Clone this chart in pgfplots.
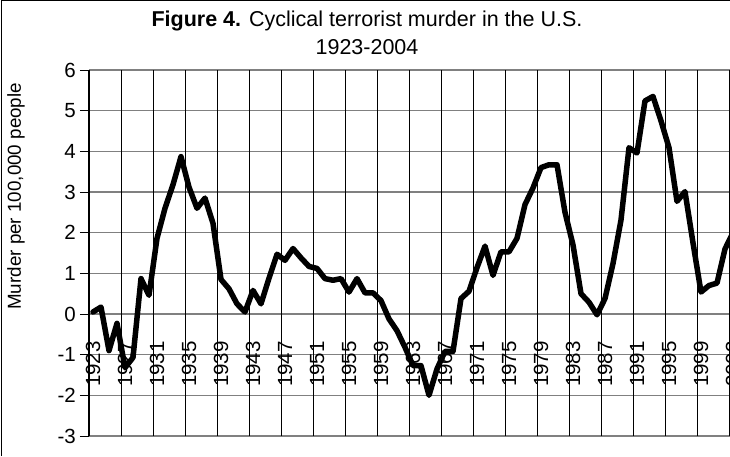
\documentclass[border=0pt]{standalone}
\usepackage{pgfplots}
\pgfplotsset{compat=1.18}
\usepackage{pgfplotstable}
\usepackage{fontspec}
\setmainfont{Liberation Sans}

\pgfplotstableread{
year val
1923 0.05
1924 0.17
1925 -0.90
1926 -0.23
1927 -1.32
1928 -1.07
1929 0.87
1930 0.46
1931 1.86
1932 2.60
1933 3.18
1934 3.87
1935 3.12
1936 2.60
1937 2.85
1938 2.23
1939 0.85
1940 0.62
1941 0.25
1942 0.05
1943 0.58
1944 0.25
1945 0.88
1946 1.47
1947 1.32
1948 1.61
1949 1.38
1950 1.17
1951 1.12
1952 0.87
1953 0.83
1954 0.87
1955 0.54
1956 0.87
1957 0.52
1958 0.52
1959 0.33
1960 -0.12
1961 -0.41
1962 -0.82
1963 -1.27
1964 -1.27
1965 -2.00
1966 -1.35
1967 -0.92
1968 -0.92
1969 0.38
1970 0.56
1971 1.14
1972 1.67
1973 0.95
1974 1.53
1975 1.53
1976 1.86
1977 2.69
1978 3.10
1979 3.60
1980 3.67
1981 3.67
1982 2.50
1983 1.70
1984 0.50
1985 0.29
1986 -0.02
1987 0.38
1988 1.24
1989 2.31
1990 4.09
1991 3.96
1992 5.24
1993 5.35
1994 4.75
1995 4.09
1996 2.77
1997 3.01
1998 1.75
1999 0.54
2000 0.70
2001 0.76
2002 1.60
2003 2.00
2004 2.10
}\datatable

\begin{document}
\begin{tikzpicture}
\useasboundingbox (0pt,0pt) rectangle (730pt,456pt);
\begin{axis}[
  at={(89pt,20pt)}, anchor=south west,
  scale only axis, width=656pt, height=366pt,
  xmin=1922.5, xmax=2004.5, ymin=-3, ymax=6,
  axis line style={draw=none},
  xtick={1923,1927,1931,1935,1939,1943,1947,1951,1955,1959,1963,1967,1971,1975,1979,1983,1987,1991,1995,1999,2003},
  xticklabels={1923,1927,1931,1935,1939,1943,1947,1951,1955,1959,1963,1967,1971,1975,1979,1983,1987,1991,1995,1999,2003},
  xtick style={/pgfplots/major tick length=0pt},
  extra x ticks={1926.5,1930.5,1934.5,1938.5,1942.5,1946.5,1950.5,1954.5,1958.5,1962.5,1966.5,1970.5,1974.5,1978.5,1982.5,1986.5,1990.5,1994.5,1998.5,2002.5},
  extra x tick labels={},
  extra x tick style={grid=major, major grid style={black, line width=0.9pt}},
  ytick={-3,...,6},
  yticklabels={-3,-2,-1,0,1,2,3,4,5,6},
  ymajorgrids,
  major grid style={gray, line width=1.4pt},
  ytick style={black, line width=1pt},
  tick align=outside,
  major tick length=9pt,
  yticklabel style={font=\fontsize{20.5}{20.5}\selectfont, anchor=east, inner sep=0pt, xshift=-4pt},
  xticklabel style={font=\fontsize{20.5}{20.5}\selectfont, yshift=104pt, rotate=90, anchor=east, inner sep=0pt},
  every axis y label/.style={at={(axis description cs:-0.1113,0.655)}, rotate=90, anchor=center},
  ylabel={Murder per 100,000 people},
  ylabel style={font=\fontsize{18.8}{18.8}\selectfont},
]
\addplot[black, line width=5.5pt, line join=round, line cap=round] table[x=year,y=val] {\datatable};
\end{axis}
\draw[black, line width=1.3pt] (89pt,20pt) -- (89pt,386pt);
\draw[black, line width=1pt] (1pt,0pt) -- (1pt,455pt) -- (730pt,455pt);
\node[anchor=base, font=\fontsize{21.5}{24}\selectfont] at (367pt,429pt) {\textbf{Figure 4.} Cyclical terrorist murder in the U.S.};
\node[anchor=base, font=\fontsize{21.5}{24}\selectfont] at (367pt,401pt) {1923-2004};
\end{tikzpicture}
\end{document}
